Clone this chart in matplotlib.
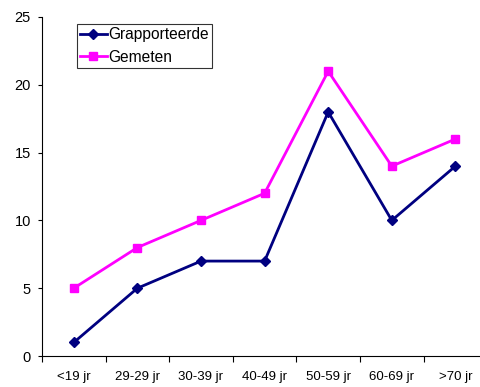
import matplotlib.pyplot as plt

plt.rcParams['font.family'] = ['Liberation Sans', 'DejaVu Sans']

groepen = ['<19 jr', '29-29 jr', '30-39 jr', '40-49 jr', '50-59 jr', '60-69 jr', '>70 jr']
gerapporteerd = [1, 5, 7, 7, 18, 10, 14]
gemeten = [5, 8, 10, 12, 21, 14, 16]

fig = plt.figure(figsize=(4.8, 3.87), dpi=100)
# axes runs a bit past the right edge of the figure
ax = fig.add_axes([42 / 480, 1 - 356 / 387, 7 * 63.6 / 480, 339 / 387])

x = [i + 0.5 for i in range(len(groepen))]
ax.plot(x, gerapporteerd, color='#000080', marker='D', markersize=5, lw=2, label='Grapporteerde')
ax.plot(x, gemeten, color='#FF00FF', marker='s', markersize=6, lw=2, label='Gemeten')

ax.set_xlim(0, 7)
ax.set_ylim(0, 25)
ax.set_yticks(range(0, 26, 5))
ax.set_xticks(range(0, 8))
ax.set_xticklabels([])
ax.set_xticks(x, minor=True)
ax.set_xticklabels(groepen, minor=True)
ax.tick_params(axis='x', which='minor', length=0, pad=11, labelsize=9.5)
ax.tick_params(axis='x', which='major', length=4, direction='out')
ax.tick_params(axis='y', length=3, direction='out', pad=5, labelsize=10.5)

for s in ['top', 'right']:
    ax.spines[s].set_visible(False)

leg = ax.legend(loc='upper left', bbox_to_anchor=(35 / (7 * 63.6), 1 - 7 / 339),
                fontsize=11.2, frameon=True, fancybox=False, borderpad=0.2,
                handlelength=1.7, handletextpad=0.1, labelspacing=0.5, borderaxespad=0)
leg.get_frame().set_edgecolor('black')
leg.get_frame().set_linewidth(0.8)

fig.savefig('out.png', dpi=100)
